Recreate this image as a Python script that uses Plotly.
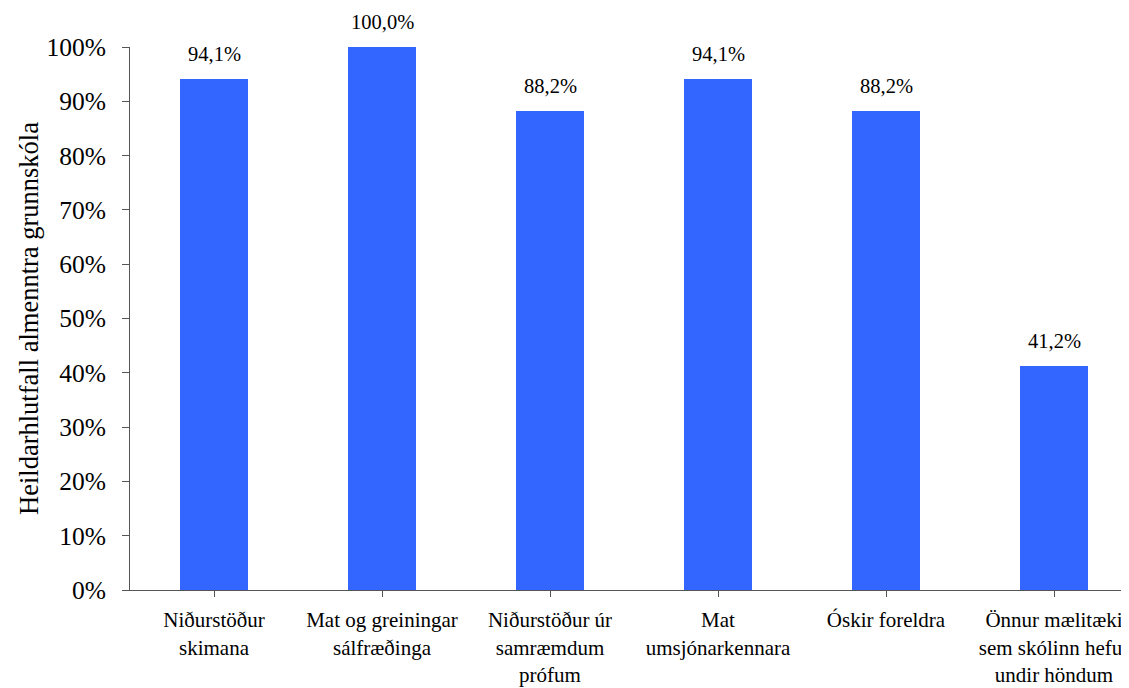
import plotly.graph_objects as go

categories = [
    "Niðurstöður<br>skimana",
    "Mat og greiningar<br>sálfræðinga",
    "Niðurstöður úr<br>samræmdum<br>prófum",
    "Mat<br>umsjónarkennara",
    "Óskir foreldra",
    "Önnur mælitæki<br>sem skólinn hefur<br>undir höndum",
]
values = [0.941, 1.000, 0.882, 0.941, 0.882, 0.412]
value_labels = ["94,1%", "100,0%", "88,2%", "94,1%", "88,2%", "41,2%"]
y_title = "Heildarhlutfall almenntra grunnskóla"

FONT = "Liberation Serif"
# page body has an 8px margin; figure sits at (8, 8)
W, H = 1121, 680
ML, MT, MB = 122, 39, 98
cat_px = 168.0
plot_w = W - ML
x_max = -0.5 + plot_w / cat_px

xs = list(range(len(categories)))

fig = go.Figure()
fig.add_trace(go.Bar(
    x=xs, y=values, width=0.405,
    marker=dict(color="#3366FF", line=dict(width=0)),
    hoverinfo="skip",
))

for x, v, t in zip(xs, values, value_labels):
    fig.add_annotation(
        x=x, y=v, text=t, showarrow=False,
        xanchor="center", yanchor="bottom", yshift=12,
        font=dict(family=FONT, size=20.5, color="#000000"),
    )

fig.update_layout(
    width=W, height=H,
    margin=dict(l=ML, r=0, t=MT, b=MB, pad=0),
    paper_bgcolor="white", plot_bgcolor="white",
    showlegend=False,
    font=dict(family=FONT, color="#000000"),
    bargap=0,
)
fig.update_xaxes(
    range=[-0.5, x_max],
    tickmode="array", tickvals=xs, ticktext=categories,
    tickson="boundaries",
    ticks="outside", ticklen=6, tickcolor="#555555", tickwidth=1,
    showline=True, linecolor="#555555", linewidth=1,
    showgrid=False, zeroline=False,
    tickfont=dict(family=FONT, size=21, color="#000000"),
    ticklabelstandoff=5,
    ticklabeloverflow="allow",
    tickangle=0, fixedrange=True,
)
fig.update_yaxes(
    range=[0, 1.0], dtick=0.1, tick0=0, tickformat=".0%",
    ticks="outside", ticklen=7, tickcolor="#555555", tickwidth=1,
    showline=True, linecolor="#555555", linewidth=1,
    showgrid=False, zeroline=False,
    tickfont=dict(family=FONT, size=25.5, color="#000000"),
    ticklabelstandoff=11,
    title=dict(text=y_title, font=dict(family=FONT, size=26.5, color="#000000"), standoff=0),
    fixedrange=True,
)

fig.write_html("out.html")
